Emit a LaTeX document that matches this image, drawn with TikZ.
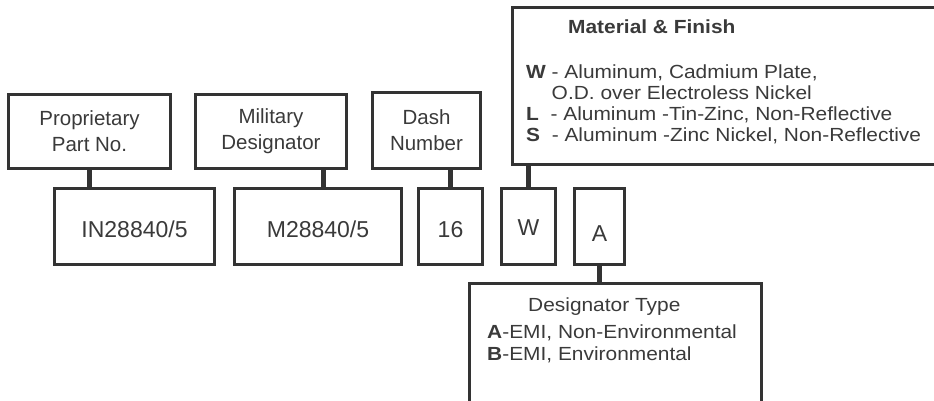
\documentclass[tikz,border=0pt]{standalone}
\usepackage{fontspec}
\setmainfont{Liberation Sans}
\newfontfamily\wideface[FakeStretch=1.1]{Liberation Sans}
\usepackage{xcolor}
\definecolor{boxline}{HTML}{333333}
\definecolor{boxtext}{HTML}{3A3A3A}
\usepackage{tikz}

\begin{document}
\begin{tikzpicture}[
  x=1pt, y=-1pt,
  tagbox/.style={rectangle, draw=boxline, line width=2.6pt, text=boxtext, inner sep=0pt, align=center, font=\fontsize{20.5}{26}\selectfont},
  codebox/.style={rectangle, draw=boxline, line width=3pt, text=boxtext, inner sep=0pt, minimum height=76pt, text height=22.5pt, text depth=0pt, font=\fontsize{23}{28}\selectfont},
  notebox/.style={rectangle, draw=boxline, line width=3pt, inner sep=0pt},
  notetext/.style={anchor=base west, inner sep=0pt, text=boxtext, font=\wideface\fontsize{19}{22}\selectfont},
  link/.style={draw=boxline, line width=5pt},
]
  \useasboundingbox (0,0) rectangle (934,400);
  \clip (0,0) rectangle (934,400);

  \node[tagbox, minimum width=162pt, minimum height=74pt] (prop) at (89.5,131.5) {Proprietary\\Part No.};
  \node[tagbox, minimum width=151pt, minimum height=74pt] (mil) at (271,131.5) {Military\\Designator};
  \node[tagbox, minimum width=108pt, minimum height=76pt] (dash) at (426.5,130.5) {Dash\\Number};
  \node[notebox, minimum width=456pt, minimum height=157pt] (mat) at (740.5,86) {};

  \node[codebox, minimum width=160pt] (in) at (134.5,226.5) {IN28840/5};
  \node[codebox, minimum width=167pt] (mdes) at (318,226.5) {M28840/5};
  \node[codebox, minimum width=64pt] (num) at (450.5,226.5) {16};
  \node[codebox, minimum width=54pt] (wbox) at (528.5,226.5) {\raisebox{2pt}[\height][0pt]{W}};
  \node[codebox, minimum width=50pt] (abox) at (599.5,226.5) {\raisebox{-4pt}[\height][0pt]{A}};
  \node[notebox, minimum width=292pt, minimum height=155pt] (desig) at (615.5,361) {};

  \node[notetext] (matHead) at (568,33) {\bfseries Material \& Finish};
  \node[notetext] (matW) at (526,78) {\textbf{W} - Aluminum, Cadmium Plate,};
  \node[notetext] (matOD) at (526,99) {\phantom{\textbf{W}\ }O.D. over Electroless Nickel};
  \node[notetext] (matL) at (526,120) {\textbf{L}\ \ - Aluminum -Tin-Zinc, Non-Reflective};
  \node[notetext] (matS) at (526,141) {\textbf{S}\ \ - Aluminum -Zinc Nickel, Non-Reflective};

  \node[notetext] (desHead) at (528,311) {Designator Type};
  \node[notetext] (desA) at (487,338) {\textbf{A}-EMI, Non-Environmental};
  \node[notetext] (desB) at (487,360) {\textbf{B}-EMI, Environmental};

  \coordinate (milfoot) at ([xshift=5pt]mdes.north);
  \draw[link] (prop.south) -- (prop.south |- in.north);
  \draw[link] (milfoot) -- (milfoot |- mil.south);
  \draw[link] (num.north) -- (num.north |- dash.south);
  \draw[link] (wbox.north) -- (wbox.north |- mat.south);
  \draw[link] (abox.south) -- (abox.south |- desig.north);
\end{tikzpicture}
\end{document}
